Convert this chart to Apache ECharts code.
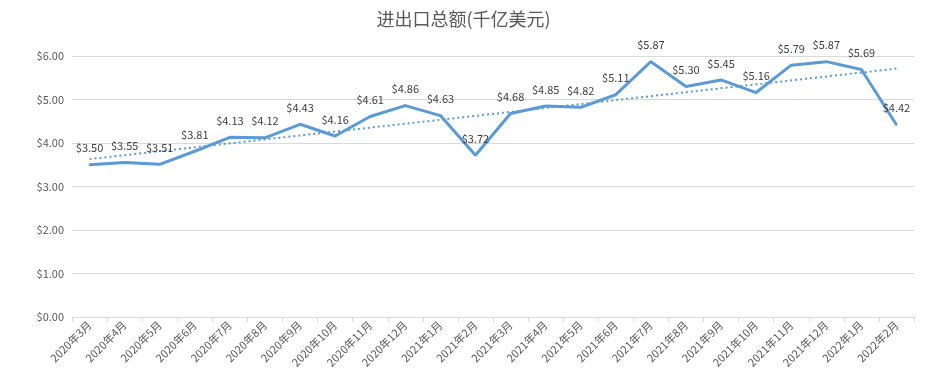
<!DOCTYPE html>
<html><head><meta charset="utf-8">
<script src="https://cdn.jsdelivr.net/npm/echarts@6/dist/echarts.min.js"></script>
<style>html,body{margin:0;padding:0;background:#fff}#c{width:927px;height:380px}</style>
</head><body><div id="c"></div>
<script>
var categories = ["2020年3月","2020年4月","2020年5月","2020年6月","2020年7月","2020年8月","2020年9月","2020年10月","2020年11月","2020年12月","2021年1月","2021年2月","2021年3月","2021年4月","2021年5月","2021年6月","2021年7月","2021年8月","2021年9月","2021年10月","2021年11月","2021年12月","2022年1月","2022年2月"];
var values = [3.50,3.55,3.51,3.81,4.13,4.12,4.43,4.16,4.61,4.86,4.63,3.72,4.68,4.85,4.82,5.11,5.87,5.30,5.45,5.16,5.79,5.87,5.69,4.42];
var trendEnds = [[0,3.63],[23,5.71]];
var yTicks = {min:0, max:6, interval:1};

var chart = echarts.init(document.getElementById('c'));
var font = '"Noto Sans CJK SC", "Noto Sans", sans-serif';
chart.setOption({
  backgroundColor:'#fff',
  animation:false,
  title:{text:'进出口总额(千亿美元)', left:'center', top:5,
    textStyle:{fontFamily:font, fontSize:18, fontWeight:'normal', color:'#595959'}},
  grid:{left:72, right:13, top:56, bottom:63},
  xAxis:{type:'category', data:categories, boundaryGap:true,
    axisLine:{lineStyle:{color:'#D9D9D9', width:1}},
    axisTick:{show:true, alignWithLabel:false, length:5, lineStyle:{color:'#D9D9D9'}},
    axisLabel:{rotate:45, interval:0, fontFamily:font, fontSize:11, color:'#595959', margin:6}},
  yAxis:{type:'value', min:yTicks.min, max:yTicks.max, interval:yTicks.interval,
    axisLine:{show:false}, axisTick:{show:false},
    splitLine:{lineStyle:{color:'#D9D9D9', width:1}},
    axisLabel:{fontFamily:font, fontSize:11, color:'#595959', margin:8,
      formatter:function(v){return '$'+v.toFixed(2);}}},
  series:[
    {type:'line', data:values, symbol:'circle', symbolSize:2, showSymbol:true, showAllSymbol:true,
      itemStyle:{color:'#5B9BD5'},
      lineStyle:{color:'#5B9BD5', width:3},
      z:3,
      label:{show:true, position:'top', distance:10, fontFamily:font, fontSize:11, color:'#404040',
        formatter:function(p){return '$'+p.value.toFixed(2);}}},
    {type:'line', data:trendEnds, symbol:'none', z:2,
      lineStyle:{color:'#5B9BD5', width:2, type:[2,3]}, silent:true}
  ]
});
</script></body></html>
